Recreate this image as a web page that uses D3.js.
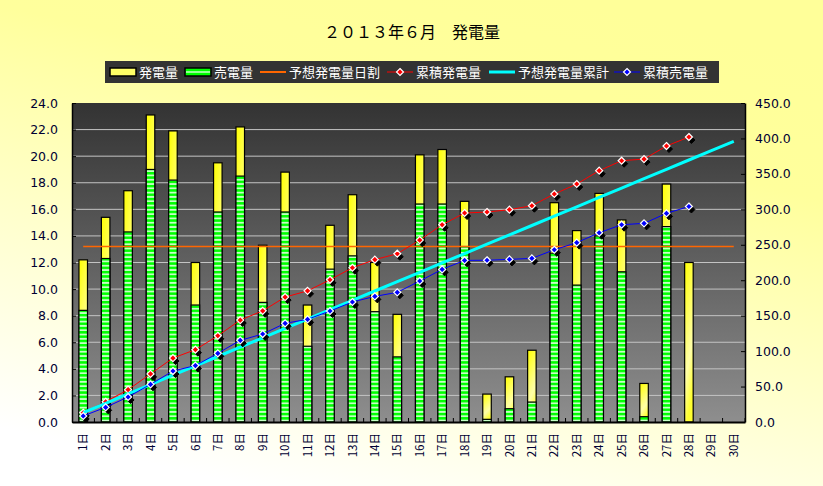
<!DOCTYPE html>
<html>
<head>
<meta charset="utf-8">
<script src="https://cdn.jsdelivr.net/npm/d3@7"></script>
<style>
  body { margin: 0; }
  svg { display: block; }
  .tick text { font-family: "DejaVu Sans", Verdana, sans-serif; }
</style>
</head>
<body>
<svg id="svg" width="823" height="486"></svg>
<script>
// values
var days = ["1日","2日","3日","4日","5日","6日","7日","8日","9日","10日",
  "11日","12日","13日","14日","15日","16日","17日","18日","19日","20日",
  "21日","22日","23日","24日","25日","26日","27日","28日","29日","30日"];

// daily generation (left axis)
var generation = [12.2, 15.4, 17.4, 23.1, 21.9, 12.0, 19.5, 22.2, 13.3, 18.8,
  8.8, 14.8, 17.1, 12.0, 8.1, 20.1, 20.5, 16.6, 2.1, 3.4,
  5.4, 16.5, 14.4, 17.2, 15.2, 2.9, 17.9, 12.0, null, null];

// daily sold (left axis)
var sold = [8.4, 12.3, 14.3, 19.0, 18.2, 8.8, 15.8, 18.5, 9.0, 15.8,
  5.7, 11.5, 12.5, 8.3, 4.9, 16.4, 16.4, 13.2, 0.2, 1.0,
  1.5, 12.7, 10.3, 14.0, 11.3, 0.4, 14.7, null, null, null];

// expected daily share (left axis)
var planDaily = [13.2, 13.2, 13.2, 13.2, 13.2, 13.2, 13.2, 13.2, 13.2, 13.2,
  13.2, 13.2, 13.2, 13.2, 13.2, 13.2, 13.2, 13.2, 13.2, 13.2,
  13.2, 13.2, 13.2, 13.2, 13.2, 13.2, 13.2, 13.2, 13.2, 13.2];

// cumulative generation (right axis)
var cumGeneration = [13.0, 28.6, 45.6, 67.8, 90.2, 102.0, 121.6, 143.8, 156.8, 176.2,
  185.0, 200.6, 217.6, 229.0, 237.4, 256.6, 278.2, 294.8, 296.2, 299.5,
  305.1, 321.6, 335.7, 354.5, 368.6, 370.9, 389.3, 402.0, null, null];

// expected cumulative (right axis)
var planCum = [13.2, 26.4, 39.6, 52.8, 66.0, 79.2, 92.4, 105.6, 118.8, 132.0,
  145.2, 158.4, 171.6, 184.8, 198.0, 211.2, 224.4, 237.6, 250.8, 264.0,
  277.2, 290.4, 303.6, 316.8, 330.0, 343.2, 356.4, 369.6, 382.8, 396.0];

// cumulative sold (right axis)
var cumSold = [8.5, 20.7, 35.3, 53.1, 71.9, 79.6, 96.9, 115.2, 124.1, 139.2,
  144.8, 156.6, 169.3, 177.2, 182.9, 198.9, 215.3, 228.0, 228.2, 229.4,
  230.8, 243.0, 253.0, 267.0, 278.3, 280.2, 294.3, 304.0, null, null];

var leftTicks = [0, 2, 4, 6, 8, 10, 12, 14, 16, 18, 20, 22, 24];
var rightTicks = [0, 50, 100, 150, 200, 250, 300, 350, 400, 450];

var legendItems = [
  { label: "発電量", kind: "yellow" },
  { label: "売電量", kind: "green" },
  { label: "予想発電量日割", kind: "line", color: "#ff6600", width: 2 },
  { label: "累積発電量", kind: "marker", color: "#ff0000", width: 1 },
  { label: "予想発電量累計", kind: "line", color: "#00ffff", width: 3 },
  { label: "累積売電量", kind: "marker", color: "#0000ff", width: 1 }
];

var W = 823, H = 486;
var pLeft = 72, pRight = 745, pTop = 103, pBottom = 422;
var jp = "'Noto Sans CJK JP', 'Noto Sans', sans-serif";

var svg = d3.select("#svg");
var defs = svg.append("defs");

var bgGrad = defs.append("linearGradient").attr("id", "bg")
  .attr("x1", 0.7).attr("y1", 0).attr("x2", 0.3).attr("y2", 1);
bgGrad.append("stop").attr("offset", "0").attr("stop-color", "#ffff99");
bgGrad.append("stop").attr("offset", "0.25").attr("stop-color", "#ffff9c");
bgGrad.append("stop").attr("offset", "1").attr("stop-color", "#ffffff");

var plotGrad = defs.append("linearGradient").attr("id", "plotbg")
  .attr("x1", 0).attr("y1", 0).attr("x2", 0).attr("y2", 1);
plotGrad.append("stop").attr("offset", "0").attr("stop-color", "#333333");
plotGrad.append("stop").attr("offset", "1").attr("stop-color", "#8e8e8e");

var yellowGrad = defs.append("linearGradient").attr("id", "yellow")
  .attr("x1", 0).attr("y1", 0).attr("x2", 0.3).attr("y2", 1);
yellowGrad.append("stop").attr("offset", "0").attr("stop-color", "#ffff00");
yellowGrad.append("stop").attr("offset", "0.7").attr("stop-color", "#ffffa8");
yellowGrad.append("stop").attr("offset", "1").attr("stop-color", "#ffff30");

var stripes = defs.append("pattern").attr("id", "stripes")
  .attr("patternUnits", "userSpaceOnUse").attr("width", 8).attr("height", 4.3);
stripes.append("rect").attr("width", 8).attr("height", 4.3).attr("fill", "#c8ffc8");
stripes.append("rect").attr("width", 8).attr("height", 2.5).attr("fill", "#00ff00");

svg.append("rect").attr("width", W).attr("height", H).attr("fill", "url(#bg)");

// title
svg.append("text")
  .attr("x", 412).attr("y", 38)
  .attr("text-anchor", "middle")
  .style("font-family", jp).style("font-size", "16px")
  .text("２０１３年６月　発電量");

// scales
var x = d3.scaleBand().domain(days).range([pLeft, pRight]);
var yL = d3.scaleLinear().domain([0, 24]).range([pBottom, pTop]);
var yR = d3.scaleLinear().domain([0, 450]).range([pBottom, pTop]);
var cx = function(i) { return x(days[i]) + x.bandwidth() / 2; };
var barW = x.bandwidth() * 0.38;

svg.append("rect")
  .attr("x", pLeft).attr("y", pTop)
  .attr("width", pRight - pLeft).attr("height", pBottom - pTop)
  .attr("fill", "url(#plotbg)");

// gridlines
svg.append("g").selectAll("line")
  .data(leftTicks.slice(1, -1))
  .join("line")
  .attr("x1", pLeft).attr("x2", pRight)
  .attr("y1", d => yL(d)).attr("y2", d => yL(d))
  .attr("stroke", "#c4c4c4").attr("stroke-width", 1);

// bars: generation behind, sold in front
svg.append("g").selectAll("rect")
  .data(generation.map((v, i) => ({ v: v, i: i })).filter(d => d.v != null))
  .join("rect")
  .attr("x", d => cx(d.i) - barW / 2)
  .attr("width", barW)
  .attr("y", d => yL(d.v))
  .attr("height", d => yL(0) - yL(d.v))
  .attr("fill", "url(#yellow)")
  .attr("stroke", "#000").attr("stroke-width", 1.2);

svg.append("g").selectAll("rect")
  .data(sold.map((v, i) => ({ v: v, i: i })).filter(d => d.v != null))
  .join("rect")
  .attr("x", d => cx(d.i) - barW / 2)
  .attr("width", barW)
  .attr("y", d => yL(d.v))
  .attr("height", d => yL(0) - yL(d.v))
  .attr("fill", "url(#stripes)")
  .attr("stroke", "#000").attr("stroke-width", 1.2);

// lines
function lineOf(vals, scale) {
  return d3.line()
    .defined(d => d != null)
    .x((d, i) => cx(i))
    .y(d => scale(d))(vals);
}

svg.append("path").attr("d", lineOf(planDaily, yL))
  .attr("fill", "none").attr("stroke", "#ff6600").attr("stroke-width", 1.6);

function markers(vals, color) {
  var pts = vals.map((v, i) => ({ v: v, i: i })).filter(d => d.v != null);
  var g = svg.append("g");
  g.selectAll("path.sh").data(pts).join("path")
    .attr("class", "sh")
    .attr("d", "M0,-3.5L3.5,0L0,3.5L-3.5,0Z")
    .attr("transform", d => `translate(${cx(d.i) + 2.5},${yR(d.v) + 3})`)
    .attr("fill", "#000").attr("stroke", "#000").attr("stroke-width", 1);
  g.selectAll("path.mk").data(pts).join("path")
    .attr("class", "mk")
    .attr("d", "M0,-3.5L3.5,0L0,3.5L-3.5,0Z")
    .attr("transform", d => `translate(${cx(d.i)},${yR(d.v)})`)
    .attr("fill", color).attr("stroke", "#fff").attr("stroke-width", 1.2);
}

svg.append("path").attr("d", lineOf(cumGeneration, yR))
  .attr("fill", "none").attr("stroke", "#ff0000").attr("stroke-width", 1);
markers(cumGeneration, "#ff0000");

svg.append("path").attr("d", lineOf(planCum, yR))
  .attr("fill", "none").attr("stroke", "#00ffff").attr("stroke-width", 3);

svg.append("path").attr("d", lineOf(cumSold, yR))
  .attr("fill", "none").attr("stroke", "#0000ff").attr("stroke-width", 1);
markers(cumSold, "#0000ff");

// axes
var axL = svg.append("g")
  .attr("transform", `translate(${pLeft},0)`)
  .call(d3.axisLeft(yL).tickValues(leftTicks).tickFormat(d3.format(".1f"))
    .tickSizeInner(-4).tickSizeOuter(0).tickPadding(14));
var axR = svg.append("g")
  .attr("transform", `translate(${pRight},0)`)
  .call(d3.axisRight(yR).tickValues(rightTicks).tickFormat(d3.format(".1f"))
    .tickSizeInner(-4).tickSizeOuter(0).tickPadding(10));
[axL, axR].forEach(function(ax) {
  ax.select(".domain").attr("stroke", "#000").attr("stroke-width", 1.5);
  ax.selectAll(".tick line").attr("stroke", "#000");
  ax.selectAll(".tick text").style("font-size", "12.5px").attr("fill", "#000033");
});

var axB = svg.append("g")
  .attr("transform", `translate(0,${pBottom})`)
  .call(d3.axisBottom(x).tickSize(0).tickPadding(0));
axB.select(".domain").attr("stroke", "#000").attr("stroke-width", 1.8);
axB.selectAll(".tick text")
  .attr("transform", "rotate(-90)")
  .attr("x", -11).attr("y", 0).attr("dy", "0.36em")
  .attr("text-anchor", "end")
  .attr("fill", "#000033")
  .style("font-family", jp).style("font-size", "11.5px");

svg.append("g").selectAll("line")
  .data(days.map(d => x(d)).concat([pRight]).slice(1))
  .join("line")
  .attr("x1", d => d).attr("x2", d => d)
  .attr("y1", pBottom).attr("y2", pBottom - 4)
  .attr("stroke", "#000");

// legend
var lg = svg.append("g");
lg.append("rect").attr("x", 105).attr("y", 61).attr("width", 614).attr("height", 22)
  .attr("fill", "#333333");
var legX = [110, 185, 260, 387, 489, 614];
legendItems.forEach(function(it, k) {
  var g = lg.append("g").attr("transform", `translate(${legX[k]},72)`);
  if (it.kind === "yellow") {
    g.append("rect").attr("x", 0).attr("y", -4).attr("width", 26).attr("height", 8)
      .attr("fill", "#ffff66").attr("stroke", "#000").attr("stroke-width", 1.5);
  } else if (it.kind === "green") {
    g.append("rect").attr("x", 0).attr("y", -4).attr("width", 26).attr("height", 8)
      .attr("fill", "#00ff00").attr("stroke", "#000").attr("stroke-width", 1.5);
    g.append("line").attr("x1", 1).attr("x2", 25).attr("y1", 0).attr("y2", 0)
      .attr("stroke", "#c8ffc8").attr("stroke-width", 1.5);
  } else {
    g.append("line").attr("x1", 0).attr("x2", 26).attr("y1", 0).attr("y2", 0)
      .attr("stroke", it.color).attr("stroke-width", it.width);
    if (it.kind === "marker") {
      g.append("path").attr("d", "M0,-3.5L3.5,0L0,3.5L-3.5,0Z")
        .attr("transform", "translate(13,0)")
        .attr("fill", it.color).attr("stroke", "#fff").attr("stroke-width", 1.2);
    }
  }
  g.append("text").attr("x", 29).attr("y", 5)
    .attr("fill", "#fff")
    .style("font-family", jp).style("font-size", "13px")
    .text(it.label);
});
</script>
</body>
</html>
